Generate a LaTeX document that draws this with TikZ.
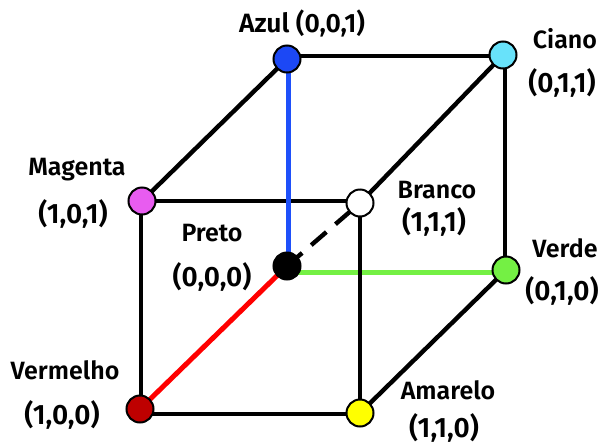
\documentclass[tikz,border=0pt]{standalone}
\usepackage{fontspec}
\usetikzlibrary{backgrounds}
\setmainfont{Fira Sans}[BoldFont={Fira Sans SemiBold}]
\definecolor{cAzul}{RGB}{28,72,245}
\definecolor{cCiano}{RGB}{104,226,250}
\definecolor{cMagenta}{RGB}{232,92,240}
\definecolor{cVerde}{RGB}{116,240,68}
\definecolor{cVermelho}{RGB}{190,0,0}
\definecolor{cAmarelo}{RGB}{255,255,0}
\definecolor{cRed}{RGB}{255,0,0}
\definecolor{cBlue}{RGB}{30,80,250}
\tikzset{
  x=1pt,y=-1pt,
  vertex/.style={circle,draw=black,line width=2pt,minimum size=27pt,inner sep=0pt},
  edge/.style={line width=4.4pt,draw=black},
  coloured/.style={line width=5pt},
  lab/.style={font=\fontsize{25}{28}\selectfont\bfseries,inner sep=0pt,anchor=center,text=black},
  num/.style={lab,font=\fontsize{28}{30}\selectfont\bfseries}
}
\begin{document}
\begin{tikzpicture}
\useasboundingbox (0,0) rectangle (600,445);
\node[vertex,fill=cAzul] (azul) at (287,59) {};
\node[vertex,fill=cCiano] (ciano) at (503,55) {};
\node[vertex,fill=cMagenta] (magenta) at (142,201) {};
\node[vertex,fill=white] (branco) at (360,203) {};
\node[vertex,fill=black] (preto) at (287,266) {};
\node[vertex,fill=cVerde] (verde) at (506,270) {};
\node[vertex,fill=cVermelho] (vermelho) at (140,409) {};
\node[vertex,fill=cAmarelo] (amarelo) at (360,413) {};
\begin{pgfonlayer}{background}
\fill[white] (0,0) rectangle (600,445);
\draw[coloured,draw=cVerde] ([yshift=-6pt]preto.center) -- ([yshift=-2pt]verde.center);
\draw[edge] ([yshift=3pt]azul.center) -- ([yshift=-1pt]ciano.center);
\draw[edge] (azul.center) -- (magenta.center);
\draw[edge] (magenta.center) -- ([yshift=2pt]branco.center);
\draw[edge] ([xshift=-1pt]magenta.center) -- ([xshift=1pt]vermelho.center);
\draw[edge] (ciano.center) -- (branco.center);
\draw[edge] ([xshift=2pt]ciano.center) -- ([xshift=-1pt]verde.center);
\draw[edge] (branco.center) -- (amarelo.center);
\draw[edge] (verde.center) -- (amarelo.center);
\draw[edge] ([yshift=-5pt]vermelho.center) -- ([yshift=-1pt]amarelo.center);
\draw[coloured,draw=cBlue] ([xshift=1pt]azul.center) -- ([xshift=1pt]preto.center);
\draw[coloured,draw=cRed] (preto.center) -- (vermelho.center);
\draw[edge,dash pattern=on 20pt off 12pt] (preto.center) -- (branco.center);
\end{pgfonlayer}
\node[lab,font=\fontsize{26.5}{28}\selectfont\bfseries] (tazul) at (302,23) {Azul (0,0,1)};
\node[lab] (tciano) at (565,39) {Ciano};
\node[num] (tciano2) at (562,83) {(0,1,1)};
\node[lab] (tmag) at (77,170) {Magenta};
\node[num] (tmag2) at (73,214) {(1,0,1)};
\node[lab] (tbr) at (437,190) {Branco};
\node[num] (tbr2) at (434,222) {(1,1,1)};
\node[lab] (tpr) at (212,233) {Preto};
\node[num] (tpr2) at (212,277) {(0,0,0)};
\node[lab] (tve) at (565,248) {Verde};
\node[num] (tve2) at (562,291) {(0,1,0)};
\node[lab] (tvm) at (65,370) {Vermelho};
\node[num] (tvm2) at (62,415) {(1,0,0)};
\node[lab] (tam) at (448,390) {Amarelo};
\node[num] (tam2) at (444,428) {(1,1,0)};
\end{tikzpicture}
\end{document}
